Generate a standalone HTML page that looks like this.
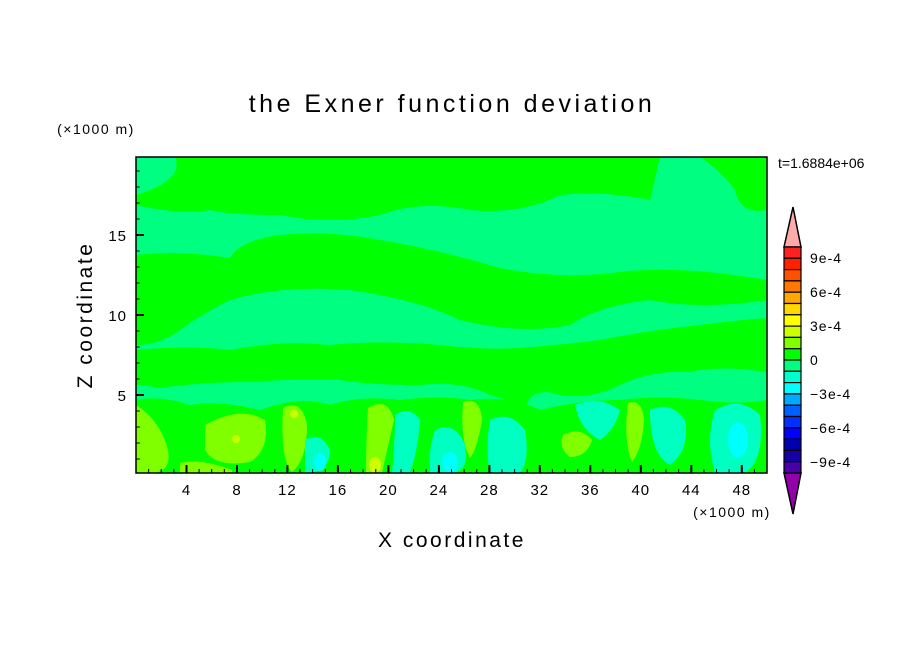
<!DOCTYPE html>
<html><head><style>body{margin:0;background:#fff}svg text{font-family:"Liberation Sans",sans-serif}</style></head><body>
<svg width="904" height="654" viewBox="0 0 904 654" xmlns="http://www.w3.org/2000/svg">
<defs><clipPath id="c"><rect x="136" y="157" width="631" height="316"/></clipPath></defs>
<g clip-path="url(#c)">
<rect x="136" y="157" width="631" height="316" fill="#00ff80"/>
<path d="M136 157 H660 L650 200 Q600 190 560 195 Q520 215 470 210 Q420 200 380 215 Q330 225 280 215 Q230 215 210 210 Q180 215 136 205 Z" fill="#00ff00"/>
<path d="M136 157 H175 Q185 180 136 195 Z" fill="#00ff80"/>
<path d="M700 157 H767 V210 Q740 215 735 190 Q720 170 700 157Z" fill="#00ff00"/>
<path d="M545 205 Q560 190 585 200 Q595 215 580 222 Q555 225 545 205Z" fill="#00ff80"/>
<path d="M136 255 Q180 250 230 258 Q240 240 280 235 Q330 230 380 240 Q440 250 500 268 Q560 280 620 272 Q680 265 767 280 V300 Q700 310 650 300 Q600 305 570 325 Q520 335 460 320 Q420 300 350 290 Q280 285 230 300 Q200 315 180 330 Q160 345 136 345 Z" fill="#00ff00"/>
<path d="M136 350 Q190 345 230 350 Q280 340 330 345 Q380 340 440 345 Q480 350 520 348 Q560 345 600 340 Q650 330 700 325 Q740 320 767 318 V372 Q720 365 690 372 Q650 370 620 385 Q590 400 560 395 Q530 385 525 410 Q510 400 490 395 Q460 380 420 385 Q370 385 340 380 Q300 378 250 382 Q200 382 160 388 Q145 385 136 385Z" fill="#00ff00"/>
<path d="M136 400 Q160 395 190 405 Q220 400 260 410 Q300 395 330 405 Q360 395 400 400 Q440 395 470 400 Q510 395 540 410 Q580 400 620 400 Q660 395 700 400 Q740 405 767 400 V473 H136Z" fill="#00ff00"/>
<g fill="#80ff00">
<path d="M136 405 Q160 420 168 450 Q172 473 150 473 H136Z"/>
<path d="M205 425 Q240 405 265 420 Q270 450 250 462 Q215 468 205 450Z"/>
<path d="M283 408 Q302 398 307 425 Q307 460 292 472 Q280 460 283 408Z"/>
<path d="M368 408 Q388 396 394 420 Q387 450 382 473 H366 Q366 440 368 408Z"/>
<path d="M463 402 Q480 396 482 420 Q477 450 470 458 Q460 440 463 402Z"/>
<path d="M563 435 Q580 426 592 440 Q587 457 570 457 Q558 448 563 435Z"/>
<path d="M628 403 Q642 398 644 420 Q642 450 632 462 Q623 440 628 403Z"/>
<path d="M180 463 Q200 458 232 470 L232 473 H180Z"/>
</g>
<g fill="#ccff00"><circle cx="236" cy="439" r="4"/><circle cx="294" cy="414" r="4"/><ellipse cx="375" cy="465" rx="6" ry="8"/></g>
<g fill="#00ffc0">
<path d="M305 440 Q320 430 330 450 Q330 473 305 473Z"/>
<path d="M395 415 Q410 405 420 420 Q418 450 410 473 H392 Q395 440 395 415Z"/>
<path d="M435 430 Q455 420 465 445 Q470 473 450 473 H430 Q428 450 435 430Z"/>
<path d="M490 420 Q510 410 525 430 Q530 460 520 473 H490 Q485 450 490 420Z"/>
<path d="M575 405 Q600 395 620 410 Q615 430 600 440 Q580 430 575 405Z"/>
<path d="M650 410 Q670 400 685 420 Q690 450 670 465 Q650 455 650 410Z"/>
<path d="M715 410 Q740 395 760 415 Q765 460 745 473 H715 Q705 440 715 410Z"/>
</g>
<g fill="#00ffff"><ellipse cx="738" cy="440" rx="10" ry="18"/><ellipse cx="450" cy="462" rx="8" ry="10"/><ellipse cx="320" cy="462" rx="6" ry="9"/></g>
</g>
<rect x="136" y="157" width="631" height="316" fill="none" stroke="#000" stroke-width="1.5"/>
<g stroke="#000" stroke-width="1">
<path d="M148.6 473v-4M161.2 473v-4M173.9 473v-4M199.1 473v-4M211.7 473v-4M224.3 473v-4M249.6 473v-4M262.2 473v-4M274.8 473v-4M300 473v-4M312.6 473v-4M325.3 473v-4M350.5 473v-4M363.1 473v-4M375.8 473v-4M401 473v-4M413.6 473v-4M426.2 473v-4M451.5 473v-4M464.1 473v-4M476.7 473v-4M502 473v-4M514.6 473v-4M527.2 473v-4M552.4 473v-4M565 473v-4M577.7 473v-4M602.9 473v-4M615.5 473v-4M628.2 473v-4M653.4 473v-4M666 473v-4M678.6 473v-4M703.9 473v-4M716.5 473v-4M729.1 473v-4M754.4 473v-4"/>
<path stroke-width="2" d="M186.5 473v-8M237 473v-8M287.4 473v-8M337.9 473v-8M388.4 473v-8M438.9 473v-8M489.4 473v-8M539.8 473v-8M590.3 473v-8M640.8 473v-8M691.3 473v-8M741.8 473v-8"/>
<path d="M136 459h4M136 443h4M136 427h4M136 411h4M136 379h4M136 363h4M136 347h4M136 331h4M136 299h4M136 283h4M136 267h4M136 251h4M136 219h4M136 203h4M136 187h4M136 171h4"/>
<path stroke-width="2" d="M136 395h8M136 315h8M136 235h8"/>
</g>
<g font-size="15" text-anchor="middle" letter-spacing="1">
<text x="186.5" y="495">4</text><text x="237" y="495">8</text><text x="287.4" y="495">12</text><text x="337.9" y="495">16</text><text x="388.4" y="495">20</text><text x="438.9" y="495">24</text><text x="489.4" y="495">28</text><text x="539.8" y="495">32</text><text x="590.3" y="495">36</text><text x="640.8" y="495">40</text><text x="691.3" y="495">44</text><text x="741.8" y="495">48</text>
</g>
<g font-size="15" text-anchor="end" letter-spacing="1"><text x="127" y="401">5</text><text x="127" y="321">10</text><text x="127" y="241">15</text></g>
<text x="732" y="517" font-size="14" text-anchor="middle" letter-spacing="1.5">(×1000 m)</text>
<text x="96" y="134" font-size="14" text-anchor="middle" letter-spacing="1.5">(×1000 m)</text>
<text x="452" y="112" font-size="25" text-anchor="middle" letter-spacing="3.5">the Exner function deviation</text>
<text x="452" y="547" font-size="21" text-anchor="middle" letter-spacing="2.5">X coordinate</text>
<text transform="translate(92 315) rotate(-90)" font-size="21" text-anchor="middle" letter-spacing="2.5">Z coordinate</text>
<text x="778" y="168" font-size="14">t=1.6884e+06</text>
<g stroke="#000" stroke-width="1.5">
<path d="M793 207 L801 247 H784Z" fill="#ffaaaa"/>
<path d="M784 473 H801 L793 514Z" fill="#9400aa"/>
</g>
<g stroke="#000" stroke-width="1.2">
<rect x="784" y="247" width="17" height="11.3" fill="#ff2020"/>
<rect x="784" y="258.3" width="17" height="11.3" fill="#ff2000"/>
<rect x="784" y="269.6" width="17" height="11.3" fill="#ff5000"/>
<rect x="784" y="280.9" width="17" height="11.3" fill="#ff7800"/>
<rect x="784" y="292.2" width="17" height="11.3" fill="#ffa800"/>
<rect x="784" y="303.5" width="17" height="11.3" fill="#ffd800"/>
<rect x="784" y="314.8" width="17" height="11.3" fill="#ffff00"/>
<rect x="784" y="326.1" width="17" height="11.3" fill="#ccff00"/>
<rect x="784" y="337.4" width="17" height="11.3" fill="#80ff00"/>
<rect x="784" y="348.7" width="17" height="11.3" fill="#00ff00"/>
<rect x="784" y="360" width="17" height="11.3" fill="#00ff80"/>
<rect x="784" y="371.3" width="17" height="11.3" fill="#00ffcc"/>
<rect x="784" y="382.6" width="17" height="11.3" fill="#00ffff"/>
<rect x="784" y="393.9" width="17" height="11.3" fill="#00aaff"/>
<rect x="784" y="405.2" width="17" height="11.3" fill="#0060ff"/>
<rect x="784" y="416.5" width="17" height="11.3" fill="#0030ff"/>
<rect x="784" y="427.8" width="17" height="11.3" fill="#0000ff"/>
<rect x="784" y="439.1" width="17" height="11.3" fill="#0000b0"/>
<rect x="784" y="450.4" width="17" height="11.3" fill="#1800a8"/>
<rect x="784" y="461.7" width="17" height="11.3" fill="#4800a8"/>
</g>
<g font-size="14" letter-spacing="1"><text x="810" y="263">9e-4</text><text x="810" y="297">6e-4</text><text x="810" y="331">3e-4</text><text x="810" y="365">0</text><text x="810" y="399">−3e-4</text><text x="810" y="433">−6e-4</text><text x="810" y="467">−9e-4</text></g>
</svg>
</body></html>
